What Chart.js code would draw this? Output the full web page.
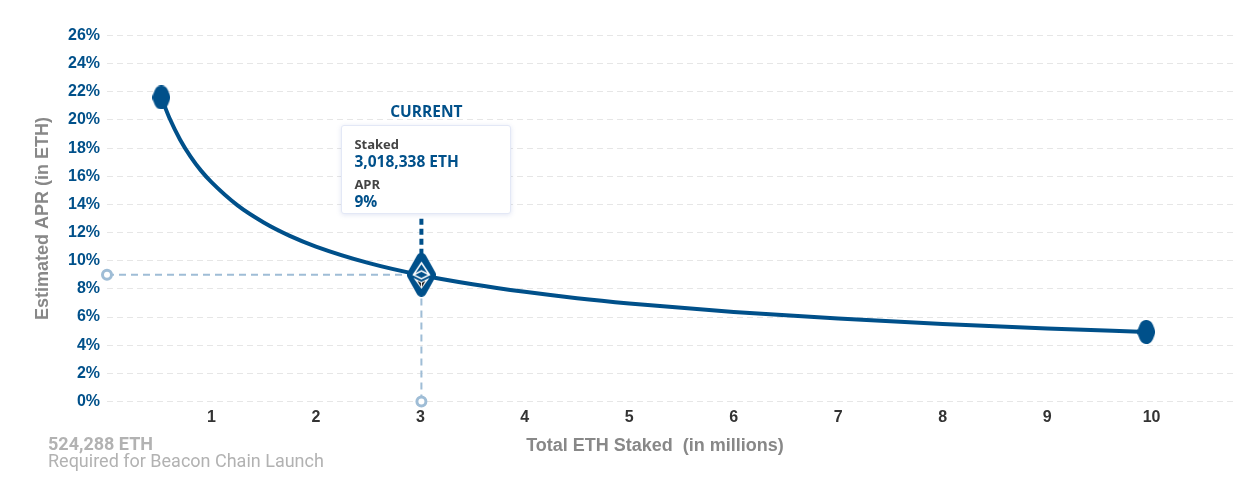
<!DOCTYPE html>
<html>
<head>
<meta charset="utf-8">
<title>Estimated APR</title>
<script src="https://cdn.jsdelivr.net/npm/chart.js@4/dist/chart.umd.min.js"></script>
<style>
html, body { margin: 0; padding: 0; background: #fff; }
#wrap { position: relative; width: 1243px; height: 490px; overflow: hidden; }
#current { position: absolute; width: 170px; text-align: center; font: 700 15.5px/20px "Open Sans", sans-serif; color: #00508a; }
#box { position: absolute; box-sizing: border-box; width: 170px; height: 89px; padding: 10px 12px; background: #fff;
  border: 1px solid #e3e8f6; border-radius: 3px; box-shadow: 0 1px 5px rgba(90,110,190,.18); font-family: "Open Sans", sans-serif; }
#box .k { font-size: 13px; font-weight: 700; line-height: 16px; color: #444; }
#box .v { font-size: 15.5px; font-weight: 700; line-height: 19px; color: #00508a; margin-bottom: 5px; }
#genesis { position: absolute; left: 48px; top: 435px; font-family: Roboto, sans-serif; font-size: 18px; line-height: 17px; color: #b2b2b2; }
#genesis b { display: block; }
</style>
</head>
<body>
<div id="wrap">
  <canvas id="aprChart" width="1243" height="490"></canvas>
  <div id="current">CURRENT</div>
  <div id="box">
    <div class="k">Staked</div><div class="v">3,018,338 ETH</div>
    <div class="k">APR</div><div class="v">9%</div>
  </div>
  <div id="genesis"><b>524,288 ETH</b>Required for Beacon Chain Launch</div>
</div>
<script>
// values
const stakedMillions = [0.52, 0.6, 0.7, 0.8, 0.9, 1, 1.25, 1.5, 1.75, 2, 2.5, 3, 3.5, 4, 4.5, 5, 6, 7, 8, 9, 9.95];
const aprPercent = [21.6, 20.1, 18.6, 17.4, 16.4, 15.58, 13.93, 12.72, 11.77, 11.01, 9.85, 8.99, 8.33, 7.79, 7.34, 6.97, 6.36, 5.89, 5.51, 5.19, 4.94];
const xTicks = [1, 2, 3, 4, 5, 6, 7, 8, 9, 10];
const currentStaked = 3.01;
const currentApr = 9;
const launchPoint = [0.52, 21.6];
const endPoint = [9.95, 4.94];
const xAxisMax = 10.78;
const yAxisMax = 26;

const BLUE = '#00508a';
const PALE = '#9fbdd6';

function diamond(w, h, r, logo) {
    const c = document.createElement('canvas');
    c.width = w;
    c.height = h;
    const g = c.getContext('2d');
    const cx = w / 2, cy = h / 2;
    g.fillStyle = BLUE;
    g.strokeStyle = BLUE;
    g.lineJoin = 'round';
    g.lineWidth = r * 2;
    g.beginPath();
    g.moveTo(cx, r);
    g.lineTo(w - r, cy);
    g.lineTo(cx, h - r);
    g.lineTo(r, cy);
    g.closePath();
    g.fill();
    g.stroke();
    if (logo) {
        // ether mark: outlined upper part, filled lower chevron
        g.strokeStyle = '#fff';
        g.lineWidth = 1.5;
        g.lineJoin = 'miter';
        g.beginPath();
        g.moveTo(cx, cy - 12);
        g.lineTo(cx + 8, cy);
        g.lineTo(cx, cy + 4);
        g.lineTo(cx - 8, cy);
        g.closePath();
        g.moveTo(cx - 8, cy);
        g.lineTo(cx, cy - 4);
        g.lineTo(cx + 8, cy);
        g.stroke();
        g.fillStyle = '#fff';
        g.beginPath();
        g.moveTo(cx - 8, cy + 3);
        g.lineTo(cx, cy + 7);
        g.lineTo(cx + 8, cy + 3);
        g.lineTo(cx, cy + 14);
        g.closePath();
        g.fill();
        g.fillStyle = '#1a1a1a';
        g.beginPath();
        g.moveTo(cx - 4, cy + 6);
        g.lineTo(cx - 0.5, cy + 8);
        g.lineTo(cx - 0.5, cy + 12);
        g.closePath();
        g.moveTo(cx + 4, cy + 6);
        g.lineTo(cx + 0.5, cy + 8);
        g.lineTo(cx + 0.5, cy + 12);
        g.closePath();
        g.fill();
    }
    return c;
}

const endMarker = diamond(18, 24, 7, false);
const currentMarker = diamond(29, 44, 5, true);

// keeps the html tooltip over the current point
const placeTooltip = {
    id: 'placeTooltip',
    afterDraw(chart) {
        const left = chart.scales.x.getPixelForValue(currentStaked) - 80;
        document.getElementById('box').style.left = left + 'px';
        document.getElementById('box').style.top = '125px';
        document.getElementById('current').style.left = left + 'px';
        document.getElementById('current').style.top = '101px';
    }
};

new Chart(document.getElementById('aprChart'), {
    type: 'line',
    data: {
        // chart.js paints the first dataset last, so markers go first
        datasets: [
            {
                data: [{ x: currentStaked, y: currentApr }],
                showLine: false, pointStyle: currentMarker, pointRadius: 21, clip: false
            },
            {
                data: [{ x: launchPoint[0], y: launchPoint[1] }, { x: endPoint[0], y: endPoint[1] }],
                showLine: false, pointStyle: endMarker, pointRadius: 12, clip: false
            },
            {
                data: stakedMillions.map((x, i) => ({ x: x, y: aprPercent[i] })),
                borderColor: BLUE, borderWidth: 4, cubicInterpolationMode: 'monotone', pointRadius: 0
            },
            {
                data: [{ x: currentStaked, y: currentApr }, { x: currentStaked, y: 13 }],
                borderColor: BLUE, borderWidth: 4, borderDash: [6, 4], pointRadius: 0
            },
            {
                data: [{ x: 0, y: currentApr }, { x: currentStaked, y: currentApr }],
                borderColor: PALE, borderWidth: 2, borderDash: [7, 5], clip: false,
                pointRadius: [4.5, 0], pointBorderColor: PALE, pointBorderWidth: 3, pointBackgroundColor: '#fff'
            },
            {
                data: [{ x: currentStaked, y: 0 }, { x: currentStaked, y: currentApr }],
                borderColor: PALE, borderWidth: 2, borderDash: [7, 5], clip: false,
                pointRadius: [4.5, 0], pointBorderColor: PALE, pointBorderWidth: 3, pointBackgroundColor: '#fff'
            }
        ]
    },
    options: {
        responsive: false,
        animation: false,
        // marker radius would otherwise push the chart area in
        layout: { autoPadding: false, padding: { top: 35.5, right: 10, left: 0, bottom: 0 } },
        plugins: { legend: { display: false }, tooltip: { enabled: false } },
        scales: {
            x: {
                type: 'linear',
                min: 0,
                max: xAxisMax,
                afterFit(scale) {
                    scale.height = 88.5;
                    scale.paddingLeft = 0;
                    scale.paddingRight = 0;
                },
                afterBuildTicks(scale) { scale.ticks = xTicks.map(v => ({ value: v })); },
                grid: { display: false, drawTicks: false },
                border: { display: false },
                ticks: {
                    autoSkip: false, maxRotation: 0, padding: 6,
                    color: '#333', font: { family: 'Liberation Sans', size: 16, weight: 'bold' }
                },
                title: {
                    display: true,
                    text: 'Total ETH Staked  (in millions)\u00a0\u00a0\u00a0\u00a0\u00a0\u00a0',
                    color: '#888', padding: { top: 0, bottom: 33 },
                    font: { family: 'Liberation Sans', size: 18, weight: 'bold' }
                }
            },
            y: {
                min: 0,
                max: yAxisMax,
                afterFit(scale) { scale.width = 107; },
                grid: { color: '#e6e6e6', drawTicks: false },
                border: { display: false, dash: [6, 4] },
                ticks: {
                    stepSize: 2, padding: 7,
                    color: BLUE, font: { family: 'Liberation Sans', size: 16, weight: 'bold' },
                    callback: v => v + '%'
                },
                title: {
                    display: true,
                    text: 'Estimated APR (in ETH)',
                    color: '#888', padding: { top: 32, bottom: 0 },
                    font: { family: 'Liberation Sans', size: 18, weight: 'bold' }
                }
            }
        }
    },
    plugins: [placeTooltip]
});
</script>
</body>
</html>
